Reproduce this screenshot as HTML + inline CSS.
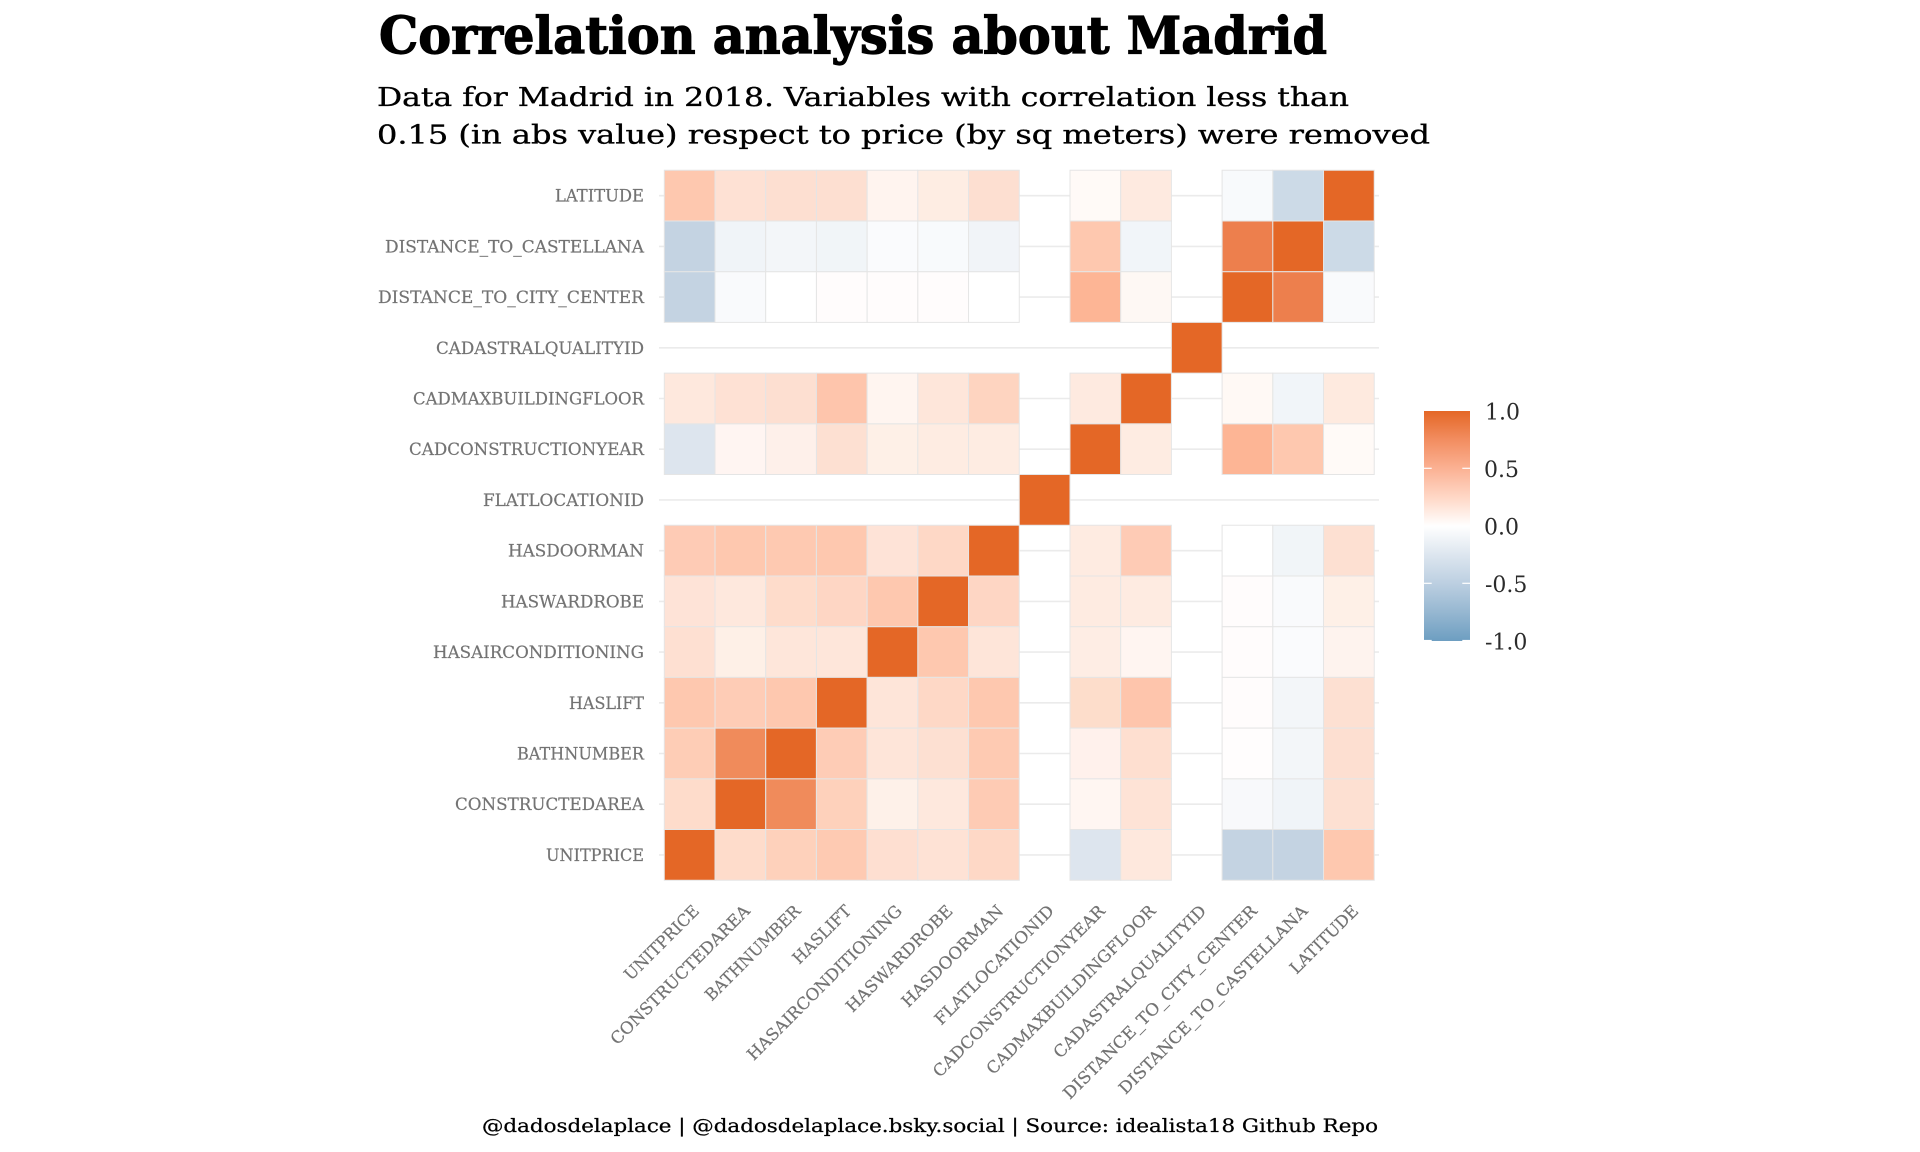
<!DOCTYPE html>
<html>
<head>
<meta charset="utf-8">
<style>
html,body{margin:0;padding:0;background:#fff;}
svg{display:block;}
.yl{font-family:"DejaVu Serif","Liberation Serif",serif;font-size:16.5px;fill:#737373;}
.xl{font-family:"DejaVu Serif","Liberation Serif",serif;font-size:16.5px;fill:#737373;}
.lg{font-family:"DejaVu Serif","Liberation Serif",serif;font-size:22px;fill:#2b2b2b;}
</style>
</head>
<body>
<svg width="1920" height="1152" viewBox="0 0 1920 1152" xmlns="http://www.w3.org/2000/svg">
<rect width="1920" height="1152" fill="#fff"/>

<!-- Title / subtitle -->
<text x="379" y="53.3" font-family="DejaVu Serif, Liberation Serif, serif" font-weight="bold" font-size="51" fill="#000" stroke="#000" stroke-width="1.2" textLength="948" lengthAdjust="spacingAndGlyphs">Correlation analysis about Madrid</text>
<text x="377" y="106" font-family="DejaVu Serif, Liberation Serif, serif" font-size="26" fill="#000" stroke="#000" stroke-width="0.35" textLength="972" lengthAdjust="spacingAndGlyphs">Data for Madrid in 2018. Variables with correlation less than</text>
<text x="377" y="143.5" font-family="DejaVu Serif, Liberation Serif, serif" font-size="26" fill="#000" stroke="#000" stroke-width="0.35" textLength="1053" lengthAdjust="spacingAndGlyphs">0.15 (in abs value) respect to price (by sq meters) were removed</text>

<!-- horizontal gridlines -->
<g stroke="#ebebeb" stroke-width="1.6">
<line x1="659" x2="1379" y1="195.7" y2="195.7"/>
<line x1="659" x2="1379" y1="246.4" y2="246.4"/>
<line x1="659" x2="1379" y1="297.1" y2="297.1"/>
<line x1="659" x2="1379" y1="347.8" y2="347.8"/>
<line x1="659" x2="1379" y1="398.5" y2="398.5"/>
<line x1="659" x2="1379" y1="449.2" y2="449.2"/>
<line x1="659" x2="1379" y1="499.9" y2="499.9"/>
<line x1="659" x2="1379" y1="550.7" y2="550.7"/>
<line x1="659" x2="1379" y1="601.4" y2="601.4"/>
<line x1="659" x2="1379" y1="652.1" y2="652.1"/>
<line x1="659" x2="1379" y1="702.8" y2="702.8"/>
<line x1="659" x2="1379" y1="753.5" y2="753.5"/>
<line x1="659" x2="1379" y1="804.2" y2="804.2"/>
<line x1="659" x2="1379" y1="854.9" y2="854.9"/>
</g>

<!-- tiles -->
<g transform="translate(664.3,170.3) scale(50.71)" stroke="#e5e5e5" stroke-width="1">
<g>
<rect vector-effect="non-scaling-stroke" x="0" y="0" width="1" height="1" fill="#FEC8AF"/>
<rect vector-effect="non-scaling-stroke" x="1" y="0" width="1" height="1" fill="#FEE1D4"/>
<rect vector-effect="non-scaling-stroke" x="2" y="0" width="1" height="1" fill="#FDDFD1"/>
<rect vector-effect="non-scaling-stroke" x="3" y="0" width="1" height="1" fill="#FDDFD1"/>
<rect vector-effect="non-scaling-stroke" x="4" y="0" width="1" height="1" fill="#FFF4EF"/>
<rect vector-effect="non-scaling-stroke" x="5" y="0" width="1" height="1" fill="#FEEDE3"/>
<rect vector-effect="non-scaling-stroke" x="6" y="0" width="1" height="1" fill="#FDDFD1"/>
<rect vector-effect="non-scaling-stroke" x="8" y="0" width="1" height="1" fill="#FFFAF7"/>
<rect vector-effect="non-scaling-stroke" x="9" y="0" width="1" height="1" fill="#FEEAE0"/>
<rect vector-effect="non-scaling-stroke" x="11" y="0" width="1" height="1" fill="#F8FAFC"/>
<rect vector-effect="non-scaling-stroke" x="12" y="0" width="1" height="1" fill="#CCDAE7"/>
<rect vector-effect="non-scaling-stroke" x="13" y="0" width="1" height="1" fill="#E46726"/>
</g>
<g>
<rect vector-effect="non-scaling-stroke" x="0" y="1" width="1" height="1" fill="#C4D3E2"/>
<rect vector-effect="non-scaling-stroke" x="1" y="1" width="1" height="1" fill="#F0F4F8"/>
<rect vector-effect="non-scaling-stroke" x="2" y="1" width="1" height="1" fill="#F3F6F9"/>
<rect vector-effect="non-scaling-stroke" x="3" y="1" width="1" height="1" fill="#F1F5F8"/>
<rect vector-effect="non-scaling-stroke" x="4" y="1" width="1" height="1" fill="#FAFBFD"/>
<rect vector-effect="non-scaling-stroke" x="5" y="1" width="1" height="1" fill="#F8FAFC"/>
<rect vector-effect="non-scaling-stroke" x="6" y="1" width="1" height="1" fill="#F1F4F8"/>
<rect vector-effect="non-scaling-stroke" x="8" y="1" width="1" height="1" fill="#FEC8AF"/>
<rect vector-effect="non-scaling-stroke" x="9" y="1" width="1" height="1" fill="#F1F5F9"/>
<rect vector-effect="non-scaling-stroke" x="11" y="1" width="1" height="1" fill="#ED7F4D"/>
<rect vector-effect="non-scaling-stroke" x="12" y="1" width="1" height="1" fill="#E46726"/>
<rect vector-effect="non-scaling-stroke" x="13" y="1" width="1" height="1" fill="#CCDAE7"/>
</g>
<g>
<rect vector-effect="non-scaling-stroke" x="0" y="2" width="1" height="1" fill="#C4D3E2"/>
<rect vector-effect="non-scaling-stroke" x="1" y="2" width="1" height="1" fill="#F9FAFC"/>
<rect vector-effect="non-scaling-stroke" x="2" y="2" width="1" height="1" fill="#FFFFFF"/>
<rect vector-effect="non-scaling-stroke" x="3" y="2" width="1" height="1" fill="#FFFCFC"/>
<rect vector-effect="non-scaling-stroke" x="4" y="2" width="1" height="1" fill="#FFFCFC"/>
<rect vector-effect="non-scaling-stroke" x="5" y="2" width="1" height="1" fill="#FFFCFC"/>
<rect vector-effect="non-scaling-stroke" x="6" y="2" width="1" height="1" fill="#FFFFFF"/>
<rect vector-effect="non-scaling-stroke" x="8" y="2" width="1" height="1" fill="#FDB595"/>
<rect vector-effect="non-scaling-stroke" x="9" y="2" width="1" height="1" fill="#FEF8F4"/>
<rect vector-effect="non-scaling-stroke" x="11" y="2" width="1" height="1" fill="#E46726"/>
<rect vector-effect="non-scaling-stroke" x="12" y="2" width="1" height="1" fill="#ED7F4D"/>
<rect vector-effect="non-scaling-stroke" x="13" y="2" width="1" height="1" fill="#F9FAFC"/>
</g>
<rect vector-effect="non-scaling-stroke" x="10" y="3" width="1" height="1" fill="#E46726"/>
<g>
<rect vector-effect="non-scaling-stroke" x="0" y="4" width="1" height="1" fill="#FEE8DD"/>
<rect vector-effect="non-scaling-stroke" x="1" y="4" width="1" height="1" fill="#FEE1D4"/>
<rect vector-effect="non-scaling-stroke" x="2" y="4" width="1" height="1" fill="#FDDFD1"/>
<rect vector-effect="non-scaling-stroke" x="3" y="4" width="1" height="1" fill="#FEC5AC"/>
<rect vector-effect="non-scaling-stroke" x="4" y="4" width="1" height="1" fill="#FFF5F0"/>
<rect vector-effect="non-scaling-stroke" x="5" y="4" width="1" height="1" fill="#FEE6DA"/>
<rect vector-effect="non-scaling-stroke" x="6" y="4" width="1" height="1" fill="#FED4C0"/>
<rect vector-effect="non-scaling-stroke" x="8" y="4" width="1" height="1" fill="#FEEAE0"/>
<rect vector-effect="non-scaling-stroke" x="9" y="4" width="1" height="1" fill="#E46726"/>
<rect vector-effect="non-scaling-stroke" x="11" y="4" width="1" height="1" fill="#FFF9F5"/>
<rect vector-effect="non-scaling-stroke" x="12" y="4" width="1" height="1" fill="#F1F5F9"/>
<rect vector-effect="non-scaling-stroke" x="13" y="4" width="1" height="1" fill="#FEEADF"/>
</g>
<g>
<rect vector-effect="non-scaling-stroke" x="0" y="5" width="1" height="1" fill="#DDE5EE"/>
<rect vector-effect="non-scaling-stroke" x="1" y="5" width="1" height="1" fill="#FFF5F2"/>
<rect vector-effect="non-scaling-stroke" x="2" y="5" width="1" height="1" fill="#FEF0EA"/>
<rect vector-effect="non-scaling-stroke" x="3" y="5" width="1" height="1" fill="#FDE0D2"/>
<rect vector-effect="non-scaling-stroke" x="4" y="5" width="1" height="1" fill="#FEF0E7"/>
<rect vector-effect="non-scaling-stroke" x="5" y="5" width="1" height="1" fill="#FEECE2"/>
<rect vector-effect="non-scaling-stroke" x="6" y="5" width="1" height="1" fill="#FEECE2"/>
<rect vector-effect="non-scaling-stroke" x="8" y="5" width="1" height="1" fill="#E46726"/>
<rect vector-effect="non-scaling-stroke" x="9" y="5" width="1" height="1" fill="#FEECE2"/>
<rect vector-effect="non-scaling-stroke" x="11" y="5" width="1" height="1" fill="#FDB595"/>
<rect vector-effect="non-scaling-stroke" x="12" y="5" width="1" height="1" fill="#FEC8AF"/>
<rect vector-effect="non-scaling-stroke" x="13" y="5" width="1" height="1" fill="#FFFAF7"/>
</g>
<rect vector-effect="non-scaling-stroke" x="7" y="6" width="1" height="1" fill="#E46726"/>
<g>
<rect vector-effect="non-scaling-stroke" x="0" y="7" width="1" height="1" fill="#FECBB5"/>
<rect vector-effect="non-scaling-stroke" x="1" y="7" width="1" height="1" fill="#FEC8AF"/>
<rect vector-effect="non-scaling-stroke" x="2" y="7" width="1" height="1" fill="#FEC9B1"/>
<rect vector-effect="non-scaling-stroke" x="3" y="7" width="1" height="1" fill="#FEC8AF"/>
<rect vector-effect="non-scaling-stroke" x="4" y="7" width="1" height="1" fill="#FEE3D7"/>
<rect vector-effect="non-scaling-stroke" x="5" y="7" width="1" height="1" fill="#FED8C6"/>
<rect vector-effect="non-scaling-stroke" x="6" y="7" width="1" height="1" fill="#E46726"/>
<rect vector-effect="non-scaling-stroke" x="8" y="7" width="1" height="1" fill="#FEEBE1"/>
<rect vector-effect="non-scaling-stroke" x="9" y="7" width="1" height="1" fill="#FECBB5"/>
<rect vector-effect="non-scaling-stroke" x="11" y="7" width="1" height="1" fill="#FFFFFF"/>
<rect vector-effect="non-scaling-stroke" x="12" y="7" width="1" height="1" fill="#F1F5F8"/>
<rect vector-effect="non-scaling-stroke" x="13" y="7" width="1" height="1" fill="#FDE0D2"/>
</g>
<g>
<rect vector-effect="non-scaling-stroke" x="0" y="8" width="1" height="1" fill="#FEE3D7"/>
<rect vector-effect="non-scaling-stroke" x="1" y="8" width="1" height="1" fill="#FEE8DD"/>
<rect vector-effect="non-scaling-stroke" x="2" y="8" width="1" height="1" fill="#FEDCCB"/>
<rect vector-effect="non-scaling-stroke" x="3" y="8" width="1" height="1" fill="#FED6C4"/>
<rect vector-effect="non-scaling-stroke" x="4" y="8" width="1" height="1" fill="#FEC8AF"/>
<rect vector-effect="non-scaling-stroke" x="5" y="8" width="1" height="1" fill="#E46726"/>
<rect vector-effect="non-scaling-stroke" x="6" y="8" width="1" height="1" fill="#FED6C4"/>
<rect vector-effect="non-scaling-stroke" x="8" y="8" width="1" height="1" fill="#FEEBE1"/>
<rect vector-effect="non-scaling-stroke" x="9" y="8" width="1" height="1" fill="#FEEBE1"/>
<rect vector-effect="non-scaling-stroke" x="11" y="8" width="1" height="1" fill="#FFFCFC"/>
<rect vector-effect="non-scaling-stroke" x="12" y="8" width="1" height="1" fill="#F9FAFC"/>
<rect vector-effect="non-scaling-stroke" x="13" y="8" width="1" height="1" fill="#FEF0E7"/>
</g>
<g>
<rect vector-effect="non-scaling-stroke" x="0" y="9" width="1" height="1" fill="#FEE0D2"/>
<rect vector-effect="non-scaling-stroke" x="1" y="9" width="1" height="1" fill="#FEF0E7"/>
<rect vector-effect="non-scaling-stroke" x="2" y="9" width="1" height="1" fill="#FEE6DA"/>
<rect vector-effect="non-scaling-stroke" x="3" y="9" width="1" height="1" fill="#FEE6DA"/>
<rect vector-effect="non-scaling-stroke" x="4" y="9" width="1" height="1" fill="#E46726"/>
<rect vector-effect="non-scaling-stroke" x="5" y="9" width="1" height="1" fill="#FEC8AF"/>
<rect vector-effect="non-scaling-stroke" x="6" y="9" width="1" height="1" fill="#FEE5D9"/>
<rect vector-effect="non-scaling-stroke" x="8" y="9" width="1" height="1" fill="#FEEDE4"/>
<rect vector-effect="non-scaling-stroke" x="9" y="9" width="1" height="1" fill="#FFF5F1"/>
<rect vector-effect="non-scaling-stroke" x="11" y="9" width="1" height="1" fill="#FFFCFC"/>
<rect vector-effect="non-scaling-stroke" x="12" y="9" width="1" height="1" fill="#FAFBFD"/>
<rect vector-effect="non-scaling-stroke" x="13" y="9" width="1" height="1" fill="#FEF3EE"/>
</g>
<g>
<rect vector-effect="non-scaling-stroke" x="0" y="10" width="1" height="1" fill="#FEC8AF"/>
<rect vector-effect="non-scaling-stroke" x="1" y="10" width="1" height="1" fill="#FECCB6"/>
<rect vector-effect="non-scaling-stroke" x="2" y="10" width="1" height="1" fill="#FEC8AF"/>
<rect vector-effect="non-scaling-stroke" x="3" y="10" width="1" height="1" fill="#E46726"/>
<rect vector-effect="non-scaling-stroke" x="4" y="10" width="1" height="1" fill="#FEE5D9"/>
<rect vector-effect="non-scaling-stroke" x="5" y="10" width="1" height="1" fill="#FED8C6"/>
<rect vector-effect="non-scaling-stroke" x="6" y="10" width="1" height="1" fill="#FEC8AF"/>
<rect vector-effect="non-scaling-stroke" x="8" y="10" width="1" height="1" fill="#FDDDCB"/>
<rect vector-effect="non-scaling-stroke" x="9" y="10" width="1" height="1" fill="#FEC5AC"/>
<rect vector-effect="non-scaling-stroke" x="11" y="10" width="1" height="1" fill="#FFFCFC"/>
<rect vector-effect="non-scaling-stroke" x="12" y="10" width="1" height="1" fill="#F3F6F9"/>
<rect vector-effect="non-scaling-stroke" x="13" y="10" width="1" height="1" fill="#FDE0D2"/>
</g>
<g>
<rect vector-effect="non-scaling-stroke" x="0" y="11" width="1" height="1" fill="#FECDB6"/>
<rect vector-effect="non-scaling-stroke" x="1" y="11" width="1" height="1" fill="#F08B5B"/>
<rect vector-effect="non-scaling-stroke" x="2" y="11" width="1" height="1" fill="#E46726"/>
<rect vector-effect="non-scaling-stroke" x="3" y="11" width="1" height="1" fill="#FECCB6"/>
<rect vector-effect="non-scaling-stroke" x="4" y="11" width="1" height="1" fill="#FEE5D9"/>
<rect vector-effect="non-scaling-stroke" x="5" y="11" width="1" height="1" fill="#FDE0D2"/>
<rect vector-effect="non-scaling-stroke" x="6" y="11" width="1" height="1" fill="#FECAB2"/>
<rect vector-effect="non-scaling-stroke" x="8" y="11" width="1" height="1" fill="#FFF1EC"/>
<rect vector-effect="non-scaling-stroke" x="9" y="11" width="1" height="1" fill="#FEDFD0"/>
<rect vector-effect="non-scaling-stroke" x="11" y="11" width="1" height="1" fill="#FFFDFD"/>
<rect vector-effect="non-scaling-stroke" x="12" y="11" width="1" height="1" fill="#F3F6F9"/>
<rect vector-effect="non-scaling-stroke" x="13" y="11" width="1" height="1" fill="#FDDFD1"/>
</g>
<g>
<rect vector-effect="non-scaling-stroke" x="0" y="12" width="1" height="1" fill="#FEDCCB"/>
<rect vector-effect="non-scaling-stroke" x="1" y="12" width="1" height="1" fill="#E46726"/>
<rect vector-effect="non-scaling-stroke" x="2" y="12" width="1" height="1" fill="#F08B5B"/>
<rect vector-effect="non-scaling-stroke" x="3" y="12" width="1" height="1" fill="#FED1BB"/>
<rect vector-effect="non-scaling-stroke" x="4" y="12" width="1" height="1" fill="#FEF1E9"/>
<rect vector-effect="non-scaling-stroke" x="5" y="12" width="1" height="1" fill="#FEE8DD"/>
<rect vector-effect="non-scaling-stroke" x="6" y="12" width="1" height="1" fill="#FECBB4"/>
<rect vector-effect="non-scaling-stroke" x="8" y="12" width="1" height="1" fill="#FFF6F2"/>
<rect vector-effect="non-scaling-stroke" x="9" y="12" width="1" height="1" fill="#FEE3D6"/>
<rect vector-effect="non-scaling-stroke" x="11" y="12" width="1" height="1" fill="#F8F9FB"/>
<rect vector-effect="non-scaling-stroke" x="12" y="12" width="1" height="1" fill="#F0F4F8"/>
<rect vector-effect="non-scaling-stroke" x="13" y="12" width="1" height="1" fill="#FDE0D2"/>
</g>
<g>
<rect vector-effect="non-scaling-stroke" x="0" y="13" width="1" height="1" fill="#E46726"/>
<rect vector-effect="non-scaling-stroke" x="1" y="13" width="1" height="1" fill="#FEDCCB"/>
<rect vector-effect="non-scaling-stroke" x="2" y="13" width="1" height="1" fill="#FED1BB"/>
<rect vector-effect="non-scaling-stroke" x="3" y="13" width="1" height="1" fill="#FECAB2"/>
<rect vector-effect="non-scaling-stroke" x="4" y="13" width="1" height="1" fill="#FEDFD1"/>
<rect vector-effect="non-scaling-stroke" x="5" y="13" width="1" height="1" fill="#FEE2D5"/>
<rect vector-effect="non-scaling-stroke" x="6" y="13" width="1" height="1" fill="#FED8C6"/>
<rect vector-effect="non-scaling-stroke" x="8" y="13" width="1" height="1" fill="#DDE5EE"/>
<rect vector-effect="non-scaling-stroke" x="9" y="13" width="1" height="1" fill="#FEE8DD"/>
<rect vector-effect="non-scaling-stroke" x="11" y="13" width="1" height="1" fill="#C4D3E2"/>
<rect vector-effect="non-scaling-stroke" x="12" y="13" width="1" height="1" fill="#C4D3E2"/>
<rect vector-effect="non-scaling-stroke" x="13" y="13" width="1" height="1" fill="#FEC8AF"/>
</g>
</g>

<!-- y axis labels -->
<g class="yl" text-anchor="end" stroke="#737373" stroke-width="0.2">
<text x="644" y="201.7" textLength="89" lengthAdjust="spacingAndGlyphs">LATITUDE</text>
<text x="644" y="252.4" textLength="259" lengthAdjust="spacingAndGlyphs">DISTANCE_TO_CASTELLANA</text>
<text x="644" y="303.1" textLength="266" lengthAdjust="spacingAndGlyphs">DISTANCE_TO_CITY_CENTER</text>
<text x="644" y="353.8" textLength="208" lengthAdjust="spacingAndGlyphs">CADASTRALQUALITYID</text>
<text x="644" y="404.5" textLength="231" lengthAdjust="spacingAndGlyphs">CADMAXBUILDINGFLOOR</text>
<text x="644" y="455.2" textLength="235" lengthAdjust="spacingAndGlyphs">CADCONSTRUCTIONYEAR</text>
<text x="644" y="505.9" textLength="161" lengthAdjust="spacingAndGlyphs">FLATLOCATIONID</text>
<text x="644" y="556.7" textLength="136" lengthAdjust="spacingAndGlyphs">HASDOORMAN</text>
<text x="644" y="607.4" textLength="143" lengthAdjust="spacingAndGlyphs">HASWARDROBE</text>
<text x="644" y="658.1" textLength="211" lengthAdjust="spacingAndGlyphs">HASAIRCONDITIONING</text>
<text x="644" y="708.8" textLength="75" lengthAdjust="spacingAndGlyphs">HASLIFT</text>
<text x="644" y="759.5" textLength="127" lengthAdjust="spacingAndGlyphs">BATHNUMBER</text>
<text x="644" y="810.2" textLength="189" lengthAdjust="spacingAndGlyphs">CONSTRUCTEDAREA</text>
<text x="644" y="860.9" textLength="98" lengthAdjust="spacingAndGlyphs">UNITPRICE</text>
</g>

<!-- x axis labels -->
<g class="xl" text-anchor="end" stroke="#737373" stroke-width="0.2">
<text transform="translate(700.2,912) rotate(-45)" textLength="98" lengthAdjust="spacingAndGlyphs">UNITPRICE</text>
<text transform="translate(750.9,912) rotate(-45)" textLength="189" lengthAdjust="spacingAndGlyphs">CONSTRUCTEDAREA</text>
<text transform="translate(801.6,912) rotate(-45)" textLength="127" lengthAdjust="spacingAndGlyphs">BATHNUMBER</text>
<text transform="translate(852.3,912) rotate(-45)" textLength="75" lengthAdjust="spacingAndGlyphs">HASLIFT</text>
<text transform="translate(903.0,912) rotate(-45)" textLength="211" lengthAdjust="spacingAndGlyphs">HASAIRCONDITIONING</text>
<text transform="translate(953.7,912) rotate(-45)" textLength="143" lengthAdjust="spacingAndGlyphs">HASWARDROBE</text>
<text transform="translate(1004.4,912) rotate(-45)" textLength="136" lengthAdjust="spacingAndGlyphs">HASDOORMAN</text>
<text transform="translate(1055.1,912) rotate(-45)" textLength="161" lengthAdjust="spacingAndGlyphs">FLATLOCATIONID</text>
<text transform="translate(1105.9,912) rotate(-45)" textLength="235" lengthAdjust="spacingAndGlyphs">CADCONSTRUCTIONYEAR</text>
<text transform="translate(1156.6,912) rotate(-45)" textLength="231" lengthAdjust="spacingAndGlyphs">CADMAXBUILDINGFLOOR</text>
<text transform="translate(1207.3,912) rotate(-45)" textLength="208" lengthAdjust="spacingAndGlyphs">CADASTRALQUALITYID</text>
<text transform="translate(1258.0,912) rotate(-45)" textLength="266" lengthAdjust="spacingAndGlyphs">DISTANCE_TO_CITY_CENTER</text>
<text transform="translate(1308.7,912) rotate(-45)" textLength="259" lengthAdjust="spacingAndGlyphs">DISTANCE_TO_CASTELLANA</text>
<text transform="translate(1359.4,912) rotate(-45)" textLength="89" lengthAdjust="spacingAndGlyphs">LATITUDE</text>
</g>

<!-- legend -->
<defs>
<linearGradient id="lg" x1="0" y1="0" x2="0" y2="1">
<stop offset="0" stop-color="#E46726"/>
<stop offset="0.125" stop-color="#F28D60"/>
<stop offset="0.25" stop-color="#FBB193"/>
<stop offset="0.375" stop-color="#FFD7C6"/>
<stop offset="0.5" stop-color="#FFFFFF"/>
<stop offset="0.625" stop-color="#DDE6EF"/>
<stop offset="0.75" stop-color="#BCCFE1"/>
<stop offset="0.875" stop-color="#96B7D1"/>
<stop offset="1" stop-color="#6D9EC1"/>
</linearGradient>
</defs>
<rect x="1424" y="411" width="46" height="230" fill="url(#lg)"/>
<g stroke="#fff" stroke-width="1.2">
<line x1="1424" x2="1431.7" y1="468.3" y2="468.3"/><line x1="1462.3" x2="1470" y1="468.3" y2="468.3"/>
<line x1="1424" x2="1431.7" y1="526" y2="526"/><line x1="1462.3" x2="1470" y1="526" y2="526"/>
<line x1="1424" x2="1431.7" y1="583.3" y2="583.3"/><line x1="1462.3" x2="1470" y1="583.3" y2="583.3"/>
<line x1="1424" x2="1431.7" y1="640.5" y2="640.5"/><line x1="1462.3" x2="1470" y1="640.5" y2="640.5"/>
</g>
<g class="lg">
<text x="1485" y="419.5">1.0</text>
<text x="1484" y="477">0.5</text>
<text x="1484" y="534.5">0.0</text>
<text x="1485" y="592">-0.5</text>
<text x="1485" y="649.5">-1.0</text>
</g>

<!-- caption -->
<text x="1378" y="1132" text-anchor="end" font-family="DejaVu Serif, Liberation Serif, serif" font-size="19" fill="#000" stroke="#000" stroke-width="0.25" textLength="896" lengthAdjust="spacingAndGlyphs">@dadosdelaplace | @dadosdelaplace.bsky.social | Source: idealista18 Github Repo</text>
</svg>
</body>
</html>
